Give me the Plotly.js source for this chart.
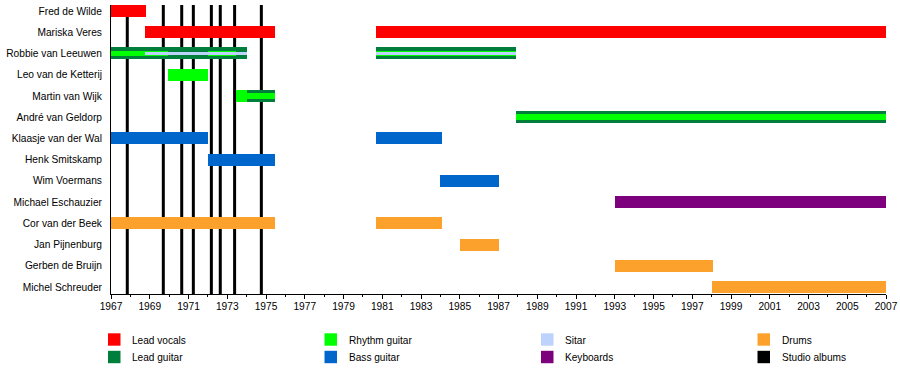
<!DOCTYPE html>
<html>
<head>
<meta charset="utf-8">
<script src="https://cdn.plot.ly/plotly-3.0.1.min.js"></script>
<style>html,body{margin:0;padding:0;background:#fff;}#chart{width:900px;height:391px;}</style>
</head>
<body>
<div id="chart"></div>
<script>
// ---- data ----
const members = ["Fred de Wilde","Mariska Veres","Robbie van Leeuwen","Leo van de Ketterij","Martin van Wijk","André van Geldorp","Klaasje van der Wal","Henk Smitskamp","Wim Voermans","Michael Eschauzier","Cor van der Beek","Jan Pijnenburg","Gerben de Bruijn","Michel Schreuder"];

// [member, start, end]
const leadVocals = [["Fred de Wilde",1967,1968.8],["Mariska Veres",1968.75,1975.46],["Mariska Veres",1980.7,2007]];
const leadGuitar = [["Robbie van Leeuwen",1967,1974.0],["Robbie van Leeuwen",1980.7,1987.9],["Martin van Wijk",1974.0,1975.46],["André van Geldorp",1987.9,2007]];
const rhythmGuitar = [["Leo van de Ketterij",1969.94,1972.0],["Martin van Wijk",1973.45,1974.0]];
const rhythmGuitarSecondary = [["Robbie van Leeuwen",1967,1969.94],["Robbie van Leeuwen",1972.0,1973.45],["Robbie van Leeuwen",1980.7,1987.9],["Martin van Wijk",1974.0,1975.46],["André van Geldorp",1987.9,2007]];
const sitar = [["Robbie van Leeuwen",1968.75,1974.0],["Robbie van Leeuwen",1980.7,1987.9]];
const bassGuitar = [["Klaasje van der Wal",1967,1972.0],["Klaasje van der Wal",1980.7,1984.08],["Henk Smitskamp",1972.0,1975.46],["Wim Voermans",1984.0,1987.0]];
const keyboards = [["Michael Eschauzier",1993.0,2007]];
const drums = [["Cor van der Beek",1967,1975.46],["Cor van der Beek",1980.7,1984.08],["Jan Pijnenburg",1985.0,1987.0],["Gerben de Bruijn",1993.0,1998.05],["Michel Schreuder",1998.0,2007]];
const studioAlbums = [1967.84,1969.70,1970.65,1971.25,1972.18,1972.64,1973.38,1974.76];

const legendLabels = ["Lead vocals","Rhythm guitar","Sitar","Drums","Lead guitar","Bass guitar","Keyboards","Studio albums"];
const legendColors = ["#ff0000","#00ff00","#bdd3fb","#fca22c","#007f3c","#0066cc","#7d007d","#000000"];

// ---- styles ----
const C = {vocals:"#ff0000", lead:"#007f3c", rhythm:"#00ff00", sitar:"#bdd3fb", bass:"#0066cc", keys:"#7d007d", drums:"#fca22c"};
const FULL = 0.566, STRIPE = 0.28, THIN = 0.16;

function barTrace(rows, color, width) {
  return {
    type: "bar", orientation: "h",
    y: rows.map(r => r[0]),
    base: rows.map(r => r[1]),
    x: rows.map(r => r[2] - r[1]),
    width: width,
    marker: {color: color, line: {width: 0}},
    showlegend: false, hoverinfo: "skip"
  };
}

const traces = [
  barTrace(leadVocals, C.vocals, FULL),
  barTrace(leadGuitar, C.lead, FULL),
  barTrace(rhythmGuitar, C.rhythm, FULL),
  barTrace(bassGuitar, C.bass, FULL),
  barTrace(keyboards, C.keys, FULL),
  barTrace(drums, C.drums, FULL),
  barTrace(rhythmGuitarSecondary, C.rhythm, STRIPE),
  barTrace(sitar, C.sitar, THIN)
];

// pixel -> paper helpers for the custom legend
const PL = 111, PW = 775, PT = 5, PH = 289;
const px = v => (v - PL) / PW;
const py = v => (PT + PH - v) / PH;

const shapes = studioAlbums.map(x => ({
  type: "line", xref: "x", yref: "paper", x0: x, x1: x, y0: 0, y1: 1,
  line: {color: "#000", width: 3}, layer: "below"
}));

const annotations = [];
const colX = [108, 324.5, 541, 757.5];
const rowY = [339.5, 357];
legendLabels.forEach((lab, i) => {
  const c = i % 4, r = Math.floor(i / 4);
  shapes.push({type: "rect", xref: "paper", yref: "paper",
    x0: px(colX[c]), x1: px(colX[c] + 12.5), y0: py(rowY[r] - 6.2), y1: py(rowY[r] + 6.2),
    fillcolor: legendColors[i], line: {width: 0}});
  annotations.push({xref: "paper", yref: "paper", x: px(colX[c] + 22), y: py(rowY[r] + 0.5),
    xanchor: "left", yanchor: "middle", text: lab, showarrow: false,
    font: {family: "Liberation Sans, Arial, sans-serif", size: 10.1, color: "#000"}});
});

const layout = {
  width: 900, height: 391,
  margin: {l: PL, r: 900 - PL - PW, t: PT, b: 391 - PT - PH, pad: 0},
  paper_bgcolor: "#fff", plot_bgcolor: "#fff",
  barmode: "overlay", bargap: 0,
  font: {family: "Liberation Sans, Arial, sans-serif", size: 10.2, color: "#000"},
  xaxis: {
    range: [1967, 2007], tick0: 1967, dtick: 2, tickmode: "linear",
    ticks: "outside", ticklen: 4, tickwidth: 1, tickcolor: "#000",
    minor: {dtick: 1, tick0: 1967, ticks: "outside", ticklen: 2, tickcolor: "#000"},
    showgrid: false, zeroline: false, showline: true, linecolor: "#000", linewidth: 1,
    tickfont: {size: 10.2}, ticklabelstandoff: -1, fixedrange: true
  },
  yaxis: {
    type: "category", categoryorder: "array", categoryarray: members,
    range: [13.33, -0.283], showgrid: false, zeroline: false,
    showline: true, linecolor: "#000", linewidth: 1, ticks: "",
    ticklabelstandoff: 6, tickfont: {size: 10.2}, fixedrange: true
  },
  shapes: shapes, annotations: annotations,
  showlegend: false
};

Plotly.newPlot("chart", traces, layout, {displayModeBar: false, staticPlot: true});
</script>
</body>
</html>
